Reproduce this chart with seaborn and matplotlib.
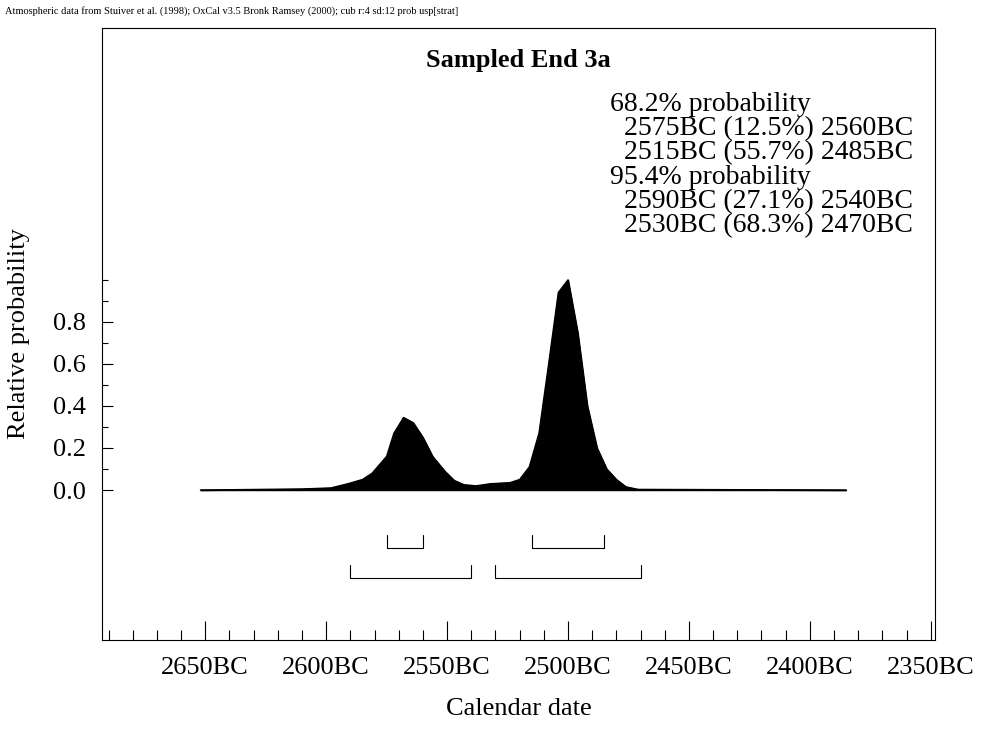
import numpy as np
import pandas as pd
import matplotlib
matplotlib.use("Agg")
import matplotlib.pyplot as plt
import seaborn as sns
from matplotlib.ticker import MultipleLocator, FixedLocator

years = [2652, 2610, 2598, 2591, 2585, 2581, 2575, 2572, 2568, 2564, 2560, 2556, 2551, 2547, 2543,
         2538, 2532, 2524, 2520, 2516, 2512, 2508, 2504, 2500, 2496, 2492, 2488, 2484, 2480, 2476,
         2471, 2385]
prob = [0, 0.005, 0.01, 0.03, 0.05, 0.08, 0.16, 0.27, 0.345, 0.32, 0.25, 0.16, 0.09, 0.045, 0.025,
        0.02, 0.03, 0.035, 0.05, 0.11, 0.27, 0.6, 0.94, 1.0, 0.75, 0.4, 0.2, 0.1, 0.05, 0.015,
        0.003, 0]
range68 = [(2575, 2560), (2515, 2485)]
range95 = [(2590, 2540), (2530, 2470)]
xticks = [2650, 2600, 2550, 2500, 2450, 2400, 2350]
xlabels = ["2650BC", "2600BC", "2550BC", "2500BC", "2450BC", "2400BC", "2350BC"]

sns.set_style("white")
plt.rcParams['font.family'] = ['Liberation Serif', 'DejaVu Serif']
plt.rcParams['text.color'] = 'black'
plt.rcParams['axes.labelcolor'] = 'black'
plt.rcParams['xtick.color'] = 'black'
plt.rcParams['ytick.color'] = 'black'
fig = plt.figure(figsize=(9.83, 7.29), dpi=100)
ax = fig.add_axes([0.104, 0.122, 0.847, 0.84])
df = pd.DataFrame({"year": years, "p": prob})
sns.lineplot(data=df, x="year", y="p", color="black", lw=1, ax=ax)
ax.fill_between(years, prob, color="black")
for rng, yb, yt in [(range68, -0.276, -0.214), (range95, -0.419, -0.357)]:
    for a, b in rng:
        ax.plot([a, a, b, b], [yt, yb, yb, yt], color="black", lw=0.8)

ax.set_xlim(2692.6, 2348.3)
ax.set_ylim(-0.714, 2.2)
ax.set_xticks(xticks)
ax.set_xticklabels(xlabels, fontsize=19)
ax.xaxis.set_minor_locator(MultipleLocator(10))
ax.set_yticks([0, 0.2, 0.4, 0.6, 0.8])
ax.set_yticklabels(["0.0", "0.2", "0.4", "0.6", "0.8"], fontsize=19)
ax.yaxis.set_minor_locator(FixedLocator(np.arange(0, 1.01, 0.1)))
ax.tick_params(axis='both', which='major', direction='in', length=14, width=0.8, left=True, bottom=True, pad=12)
ax.tick_params(axis='both', which='minor', direction='in', length=7, width=0.8, left=True, bottom=True)
ax.tick_params(axis='y', which='major', length=8, pad=12)
ax.tick_params(axis='y', which='minor', length=4)
ax.set_xlabel("Calendar date", fontsize=19, labelpad=14)
ax.set_ylabel("Relative probability", fontsize=19, labelpad=16)
for s in ax.spines.values():
    s.set_linewidth(0.8)
    s.set_color("black")

ax.text(0.5, 0.965, "Sampled End 3a", transform=ax.transAxes, ha="center", va="top",
        fontsize=19, fontweight="bold")
lines = ["68.2% probability", "  2575BC (12.5%) 2560BC", "  2515BC (55.7%) 2485BC",
         "95.4% probability", "  2590BC (27.1%) 2540BC", "  2530BC (68.3%) 2470BC"]
for i, t in enumerate(lines):
    ax.text(0.61, 0.895 - i * 0.0395, t, transform=ax.transAxes, ha="left", va="top", fontsize=20)
fig.text(0.005, 0.992, "Atmospheric data from Stuiver et al. (1998); OxCal v3.5 Bronk Ramsey (2000); cub r:4 sd:12 prob usp[strat]",
         ha="left", va="top", fontsize=7.5)
fig.savefig("out.png", dpi=100)
